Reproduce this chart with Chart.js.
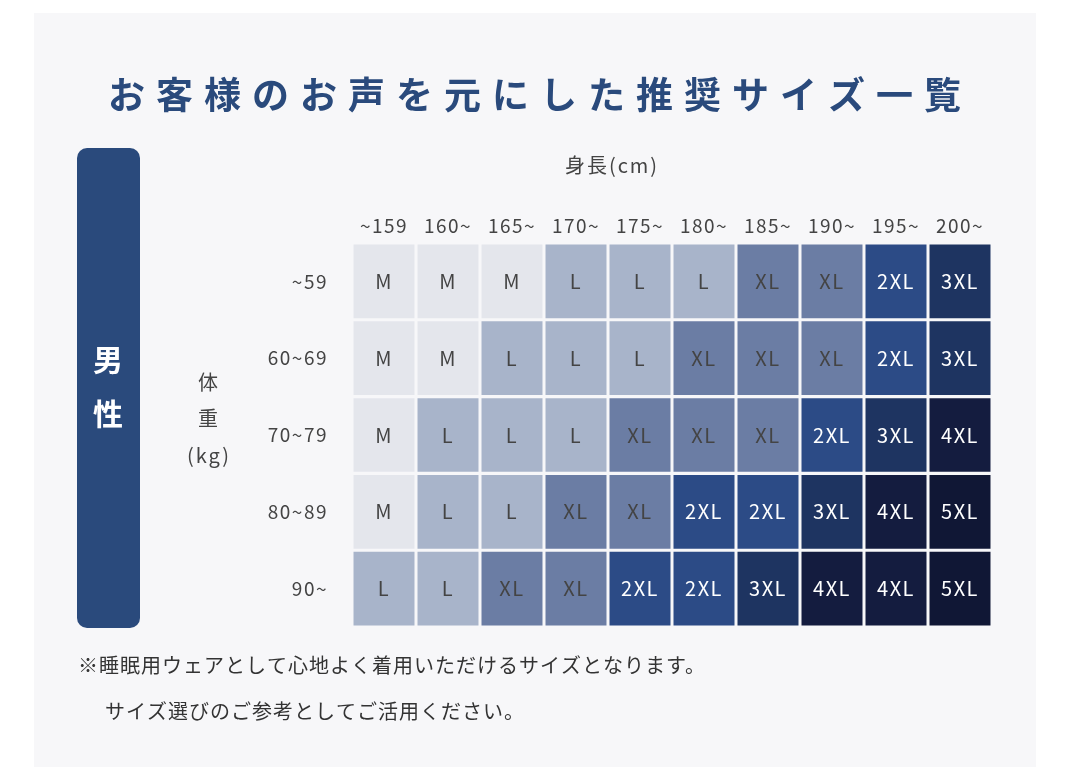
<!DOCTYPE html>
<html><head><meta charset="utf-8">
<script src="https://cdn.jsdelivr.net/npm/chart.js@4.4.0/dist/chart.umd.min.js"></script>
<style>body{margin:0;background:#fff}canvas{display:block}</style>
</head><body>
<canvas id="c" width="1080" height="767"></canvas>
<script>
const heights = ["~159", "160~", "165~", "170~", "175~", "180~", "185~", "190~", "195~", "200~"];
const weights = ["~59", "60~69", "70~79", "80~89", "90~"];
const sizes = [
  ["M", "M", "M", "L", "L", "L", "XL", "XL", "2XL", "3XL"],
  ["M", "M", "L", "L", "L", "XL", "XL", "XL", "2XL", "3XL"],
  ["M", "L", "L", "L", "XL", "XL", "XL", "2XL", "3XL", "4XL"],
  ["M", "L", "L", "XL", "XL", "2XL", "2XL", "3XL", "4XL", "5XL"],
  ["L", "L", "XL", "XL", "2XL", "2XL", "3XL", "4XL", "4XL", "5XL"]
];
const sizeColors = { M: "#e4e6ec", L: "#a8b4ca", XL: "#6b7da4", "2XL": "#2c4b86", "3XL": "#1e3461", "4XL": "#141c3f", "5XL": "#101735" };
const darkText = ["M", "L", "XL"];
const FONT = '"Noto Sans CJK JP", "Noto Sans", sans-serif';

const datasets = weights.map((w, r) => ({
  label: w,
  data: sizes[r].map(() => [r + 0.02, r + 0.98]),
  backgroundColor: sizes[r].map(s => sizeColors[s]),
  grouped: false,
  categoryPercentage: 1,
  barPercentage: 0.953,
  borderSkipped: false
}));

// draws backdrop, headings and labels around the grid
const decor = {
  id: "decor",
  beforeDraw(chart) {
    const ctx = chart.ctx;
    ctx.save();
    ctx.fillStyle = "#f7f7f9";
    ctx.fillRect(34, 13, 1002, 754);
    ctx.fillStyle = "#2a4a7c";
    ctx.beginPath();
    ctx.roundRect(77, 148, 63, 480, 10);
    ctx.fill();
    ctx.restore();
  },
  afterDraw(chart) {
    const ctx = chart.ctx, xs = chart.scales.x, ys = chart.scales.y;
    ctx.save();
    ctx.textBaseline = "middle";
    ctx.textAlign = "center";
    ctx.fillStyle = "#2a4a7c";
    ctx.font = "bold 37px " + FONT;
    ctx.letterSpacing = "11px";
    ctx.fillText("お客様のお声を元にした推奨サイズ一覧", 540, 95);
    ctx.fillStyle = "#fff";
    ctx.font = "bold 30px " + FONT;
    ctx.letterSpacing = "0px";
    ctx.fillText("男", 108, 360);
    ctx.fillText("性", 108, 414);
    ctx.fillStyle = "#444";
    ctx.font = "20px " + FONT;
    ctx.letterSpacing = "2px";
    ctx.fillText("身長(cm)", 612, 165);
    ctx.fillText("体", 209, 382);
    ctx.fillText("重", 209, 418);
    ctx.fillText("(kg)", 209, 455);
    ctx.font = "19px " + FONT;
    ctx.letterSpacing = "1.5px";
    heights.forEach((h, i) => ctx.fillText(h, xs.getPixelForValue(i), 226));
    ctx.textAlign = "right";
    weights.forEach((w, r) => ctx.fillText(w, 328, ys.getPixelForValue(r + 0.5)));
    ctx.textAlign = "center";
    ctx.font = "20px " + FONT;
    ctx.letterSpacing = "1.5px";
    sizes.forEach((row, r) => row.forEach((s, i) => {
      ctx.fillStyle = darkText.includes(s) ? "#444" : "#fff";
      ctx.fillText(s, xs.getPixelForValue(i), ys.getPixelForValue(r + 0.5));
    }));
    ctx.textAlign = "left";
    ctx.fillStyle = "#333";
    ctx.letterSpacing = "1px";
    ctx.fillText("※睡眠用ウェアとして心地よく着用いただけるサイズとなります。", 78, 665);
    ctx.fillText("サイズ選びのご参考としてご活用ください。", 105, 711);
    ctx.restore();
  }
};

new Chart(document.getElementById("c"), {
  type: "bar",
  data: { labels: heights, datasets },
  options: {
    responsive: false,
    animation: false,
    layout: { padding: { left: 352, right: 88, top: 243, bottom: 140 } },
    scales: {
      x: { display: false, offset: true },
      y: { display: false, min: 0, max: 5, reverse: true }
    },
    plugins: { legend: { display: false }, tooltip: { enabled: false } }
  },
  plugins: [decor]
});
</script>
</body></html>
